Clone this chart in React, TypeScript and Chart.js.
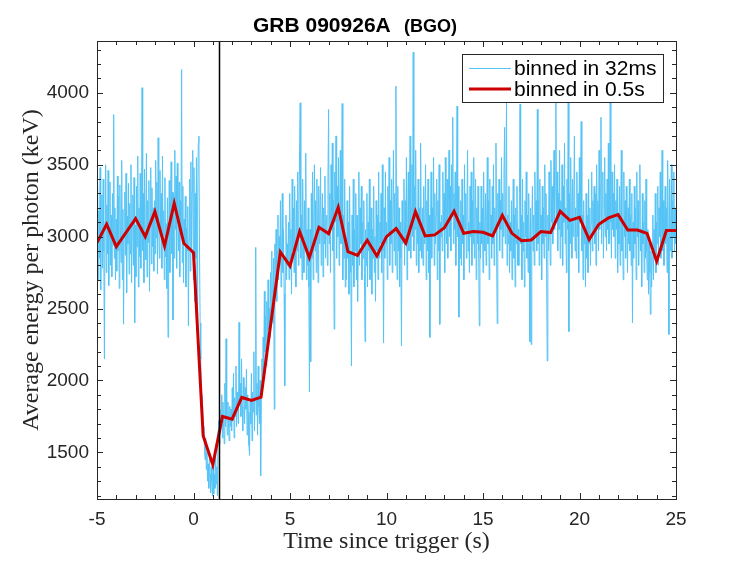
import { useEffect, useRef } from "react"
import { Chart, registerables } from "chart.js"

Chart.register(...registerables)

// 32 ms bins, first bin at t = -5 s
const BIN_START = -5
const BIN_WIDTH = 0.032

const energy32ms = [
  2960, 3350, 2700, 3180, 2850, 3480, 2630, 3050, 3290, 2780, 3400, 2900, 2150, 3100, 3500, 2750, 3220, 2880, 3460, 2660, 3030, 3380, 2800, 3150, 2720, 3300, 2940, 3849, 2850, 3200, 2700,
  3120, 2760, 3420, 2900, 3280, 2640, 3360, 3010, 2820, 3530, 2700, 3190, 2391, 3050, 3310, 2870, 3440, 2610, 3140, 2950, 3370, 2740, 3230, 2880, 3500, 2680, 3060, 3290, 2800, 3410, 2400,
  3080, 2720, 3350, 2930, 3560, 2650, 3200, 2860, 3440, 2780, 3150, 4035, 2900, 3300, 2680, 3470, 3010, 2840, 3580, 2720, 3250, 2960, 3390, 2620, 3120, 3480, 2810, 3340, 2930, 3200, 2760,
  3250, 2880, 3530, 2990, 3380, 2740, 3687, 3100, 2850, 3460, 3020, 3300, 2780, 3560, 2950, 3180, 2700, 3410, 2860, 3090, 2640, 3270, 2300, 2980, 3390, 2750, 3150, 3520, 2880, 3310, 2420,
  3300, 2850, 3600, 3050, 3420, 2780, 3510, 3160, 2900, 3380, 2720, 3250, 3050, 4162, 2820, 3350, 2680, 3120, 2940, 3280, 2650, 3060, 2900, 3210, 2380, 2980, 3400, 2760, 3520, 2900, 3310,
  3600, 2700, 3480, 2550, 3300, 2850, 3550, 2450, 3200, 3650, 3699, 2900, 2400, 2150, 1900, 1750, 1820, 1600, 1680, 1520, 1450, 1600, 1380, 1500, 1300, 1420, 1250, 1480, 1350, 1220, 1400,
  1300, 1196, 1450, 1210, 1350, 1250, 1520, 1280, 1400, 1200, 1650, 1720, 1560, 1800, 1640, 1750, 1900, 1600, 1850, 1700, 1560, 1980, 1680, 2290, 1750, 1620, 1850, 1700, 1580, 1820, 1680,
  1800, 1650, 1950, 1720, 2050, 1600, 1880, 1750, 2100, 1680, 1920, 1820, 1700, 2404, 1850, 1980, 1750, 2150, 1820, 1650, 2020, 1880, 1700, 1950, 1800, 2080, 1620, 1900, 1780, 1550, 1480,
  1850, 1700, 2050, 1580, 1920, 1780, 2200, 1650, 1880, 2925, 1760, 1980, 1620, 2100, 1820, 1700, 2000, 1337, 1900, 2150, 1950, 2300, 2050, 2620, 2200, 2450, 2100, 2550, 2250, 2700, 2350,
  2500, 2300, 2750, 2450, 2900, 2600, 2400, 2850, 1800, 2950, 2650, 3050, 2550, 2900, 3150, 2700, 3000, 2800, 3250, 2650, 2950, 3300, 2750, 3050, 2600, 1963, 2850, 3150, 2700, 2950, 2800,
  3100, 2700, 3300, 2850, 3050, 2600, 3400, 2900, 3200, 2750, 3350, 2980, 2650, 3250, 2900, 3450, 2800, 3100, 3600, 3930, 2850, 3150, 2700, 3400, 3000, 2750, 3250, 2900, 3580, 2700, 3050,
  2800, 3200, 2650, 1920, 3050, 2130, 3300, 2850, 3450, 2700, 3100, 3500, 2900, 3250, 2750, 3400, 3000, 2680, 3350, 2950, 3150, 3480, 2800, 3050, 3300, 2720, 3200, 2950, 3420, 2850, 3100,
  3150, 2800, 3400, 3884, 2950, 3300, 2750, 3500, 3050, 3650, 2900, 3250, 2357, 3450, 3100, 3700, 2850, 3350, 3000, 3550, 2800, 3200, 3600, 2950, 3300, 3925, 2700, 3150, 2850, 3400, 2650,
  3000, 2700, 3250, 2850, 3100, 2600, 3350, 2900, 2750, 2100, 3150, 2800, 3400, 2650, 3050, 2900, 3300, 2700, 3150, 2550, 3000, 3450, 2800, 3200, 2950, 3350, 2700, 3100, 2850, 3250, 2750,
  2270, 3050, 2800, 3300, 2650, 3100, 2900, 3400, 2700, 2950, 3200, 2600, 3050, 2850, 3350, 2750, 3000, 2550, 3250, 2900, 3150, 2700, 3450, 2850, 3100, 2950, 3300, 2750, 3500, 2900, 2260,
  3200, 2850, 3450, 2950, 3100, 2700, 3350, 3000, 3550, 2800, 3250, 2950, 3400, 2750, 3150, 3600, 2900, 3300, 2800, 4046, 3050, 2700, 3350, 2900, 3200, 2650, 3100, 2850, 2240, 3250, 2950,
  3050, 3400, 2800, 3250, 2950, 3550, 2700, 3100, 3450, 2900, 3300, 3700, 2850, 3200, 3500, 3000, 4282, 2900, 3350, 3050, 3600, 2800, 3150, 2950, 3400, 2750, 3200, 2900, 3650, 3000, 2850,
  3200, 2800, 3350, 2950, 3100, 3500, 2700, 3250, 2900, 3400, 2750, 3150, 2300, 3050, 3450, 2850, 3200, 3000, 3550, 2800, 3300, 2950, 3150, 3400, 2700, 3250, 2900, 3500, 2390, 3100, 3000,
  3150, 2900, 3450, 3050, 3300, 2750, 3550, 3100, 2950, 3400, 2850, 3250, 3600, 3000, 3350, 2900, 3500, 3150, 3830, 2950, 3300, 3050, 3450, 2800, 3200, 3907, 3000, 3350, 2440, 3100, 2850,
  3250, 2800, 3400, 2950, 3150, 2700, 3500, 3050, 3300, 2850, 3200, 3600, 2900, 3100, 2750, 3350, 3000, 3450, 2800, 3250, 2950, 3550, 2850, 3100, 3400, 2700, 3200, 2950, 3350, 2900, 2380,
  3100, 2850, 3350, 2950, 3200, 2750, 3450, 3050, 2900, 3300, 2800, 3150, 3550, 2950, 3250, 2700, 3400, 3000, 3150, 2850, 3350, 2950, 3500, 2800, 3200, 3050, 3650, 2900, 2395, 3300, 3100,
  3400, 2900, 3250, 3050, 3550, 2850, 3300, 3000, 3450, 3760, 2950, 3200, 3942, 2800, 3150, 2950, 3350, 2750, 3100, 2900, 3250, 2700, 3050, 3400, 2850, 3150, 2650, 3200, 2950, 3350, 2800,
  3050, 2800, 3300, 3920, 2950, 3150, 2700, 3400, 2900, 3100, 2650, 3250, 3000, 3450, 2850, 3150, 2750, 3300, 2950, 2270, 3200, 2250, 3050, 3350, 2900, 3150, 2800, 3450, 3000, 3250, 2900,
  3885, 2950, 3250, 2800, 3400, 3050, 3150, 2700, 3350, 2950, 3200, 2850, 3500, 3000, 3300, 2750, 2136, 3150, 2900, 3450, 3050, 2800, 3530, 3100, 3350, 2950, 3250, 3600, 3050, 3400, 3942,
  3100, 3450, 2900, 3300, 3050, 3600, 2850, 3250, 3000, 3500, 2800, 3350, 3100, 3650, 2950, 3200, 2750, 3400, 3050, 3965, 2340, 3300, 2950, 3550, 3100, 2850, 3400, 3000, 3250, 3700, 2900,
  3200, 2850, 3450, 3000, 3300, 2750, 3550, 3100, 3350, 3800, 2900, 3150, 2700, 3250, 2950, 3050, 2650, 3300, 2850, 3150, 2750, 3400, 2950, 3200, 2800, 3100, 3450, 2900, 3250, 3050, 3350,
  2950, 3300, 2800, 3500, 3100, 3250, 2900, 3600, 3050, 3350, 3830, 2950, 3200, 3450, 2850, 3150, 3550, 3000, 3300, 2900, 3400, 3050, 3650, 2950, 3250, 3930, 3100, 2850, 3450, 3050, 3300,
  3000, 3500, 2850, 3250, 3050, 3400, 2750, 3150, 2950, 3350, 2800, 3200, 3600, 2900, 3100, 2700, 3450, 3000, 3250, 2850, 3350, 3050, 2750, 3200, 2950, 3400, 2900, 3150, 2800, 3300, 2400,
  3100, 2850, 3350, 2950, 3200, 2700, 3450, 3000, 3250, 2800, 3150, 3500, 2900, 3050, 2650, 3300, 2950, 3100, 2750, 3250, 2850, 3400, 2900, 2700, 3050, 2600, 2950, 2750, 2460, 2900, 2650,
  2850, 3150, 2700, 3050, 2900, 3300, 2750, 3100, 2950, 3350, 2800, 3200, 3000, 3450, 2850, 3150, 3600, 2900, 3250, 2800, 3100, 3350, 2950, 3200, 2750, 3530, 3000, 2320, 3400, 2900, 3150,
  3500, 2850, 3250, 3000, 3450, 2900, 3200, 2950,
]

// 0.5 s bins
const times05s = [
  -5, -4.5, -4, -3.5, -3, -2.5, -2, -1.5, -1, -0.5, 0, 0.5, 1, 1.5, 2, 2.5, 3, 3.5, 4, 4.5,
  5, 5.5, 6, 6.5, 7, 7.5, 8, 8.5, 9, 9.5, 10, 10.5, 11, 11.5, 12, 12.5, 13, 13.5, 14, 14.5,
  15, 15.5, 16, 16.5, 17, 17.5, 18, 18.5, 19, 19.5, 20, 20.5, 21, 21.5, 22, 22.5, 23, 23.5, 24, 24.5, 25,
]
const energy05s = [
  2958, 3086, 2931, 3028, 3125, 3000, 3174, 2935, 3231, 2954, 2889, 1616, 1414, 1750, 1731, 1882, 1861, 1884, 2390, 2893,
  2796, 3035, 2854, 3065, 3021, 3204, 2896, 2870, 2975, 2866, 3000, 3056, 2956, 3174, 3005, 3012, 3062, 3176, 3023, 3035,
  3030, 3005, 3148, 3023, 2972, 2977, 3035, 3028, 3176, 3113, 3134, 2979, 3086, 3130, 3153, 3046, 3046, 3023, 2829, 3042, 3042,
]

const xTicks = [-5, 0, 5, 10, 15, 20, 25]
const yTicks = [1500, 2000, 2500, 3000, 3500, 4000]
const triggerMark = 1.34

const BLUE = "#55c3f5"
const RED = "#cc0000"
const AXIS = "#262626"

const framePlugin = {
  id: "frame",
  afterDatasetsDraw(chart: Chart) {
    const { ctx, chartArea: a, scales } = chart
    const x = scales.x
    const y = scales.y
    ctx.save()

    // trigger line
    const tx = Math.round(x.getPixelForValue(triggerMark)) + 0.5
    ctx.strokeStyle = "#000"
    ctx.lineWidth = 1.5
    ctx.beginPath()
    ctx.moveTo(tx, a.top)
    ctx.lineTo(tx, a.bottom)
    ctx.stroke()

    // box + inward ticks on all sides
    ctx.strokeStyle = AXIS
    ctx.lineWidth = 1
    ctx.strokeRect(a.left + 0.5, a.top + 0.5, a.right - a.left, a.bottom - a.top)
    ctx.beginPath()
    for (let v = -5; v <= 25; v += 1) {
      const px = Math.round(x.getPixelForValue(v)) + 0.5
      const len = v % 5 === 0 ? 6 : 4
      ctx.moveTo(px, a.bottom)
      ctx.lineTo(px, a.bottom - len)
      ctx.moveTo(px, a.top)
      ctx.lineTo(px, a.top + len)
    }
    for (let v = 1200; v <= 4300; v += 100) {
      const py = Math.round(y.getPixelForValue(v)) + 0.5
      const len = v % 500 === 0 ? 6 : 4
      ctx.moveTo(a.left, py)
      ctx.lineTo(a.left + len, py)
      ctx.moveTo(a.right, py)
      ctx.lineTo(a.right - len, py)
    }
    ctx.stroke()

    // legend
    const lx = 462
    const ly = 54
    ctx.fillStyle = "#fff"
    ctx.fillRect(lx, ly, 201, 48)
    ctx.strokeStyle = AXIS
    ctx.strokeRect(lx + 0.5, ly + 0.5, 201, 48)
    ctx.strokeStyle = BLUE
    ctx.lineWidth = 1
    ctx.beginPath()
    ctx.moveTo(469, 68.5)
    ctx.lineTo(511, 68.5)
    ctx.stroke()
    ctx.strokeStyle = RED
    ctx.lineWidth = 3
    ctx.beginPath()
    ctx.moveTo(469, 89)
    ctx.lineTo(511, 89)
    ctx.stroke()
    ctx.fillStyle = "#000"
    ctx.font = "21px 'Liberation Sans', Arial, sans-serif"
    ctx.textBaseline = "alphabetic"
    ctx.textAlign = "left"
    ctx.fillText("binned in 32ms", 514, 75)
    ctx.fillText("binned in 0.5s", 514, 96)

    // title
    ctx.font = "bold 21px 'Liberation Sans', Arial, sans-serif"
    ctx.fillText("GRB 090926A", 253, 32)
    ctx.font = "bold 18px 'Liberation Sans', Arial, sans-serif"
    ctx.fillText("(BGO)", 404, 32)

    ctx.restore()
  },
}

export default function App() {
  const chartRef = useRef<HTMLCanvasElement>(null)
  const chartInstance = useRef<Chart | null>(null)

  useEffect(() => {
    const canvas = chartRef.current
    if (!canvas) return
    const ctx = canvas.getContext("2d")
    if (!ctx) return

    if (chartInstance.current) {
      chartInstance.current.destroy()
    }

    const finePoints = energy32ms.map((e, i) => ({ x: BIN_START + i * BIN_WIDTH, y: e }))
    const coarsePoints = energy05s.map((e, i) => ({ x: times05s[i], y: e }))

    chartInstance.current = new Chart(ctx, {
      type: "line",
      data: {
        datasets: [
          {
            label: "binned in 32ms",
            data: finePoints,
            borderColor: BLUE,
            borderWidth: 1,
            pointRadius: 0,
            tension: 0,
            order: 2,
          },
          {
            label: "binned in 0.5s",
            data: coarsePoints,
            borderColor: RED,
            borderWidth: 3,
            pointRadius: 0,
            tension: 0,
            order: 1,
          },
        ],
      },
      options: {
        responsive: false,
        animation: false,
        devicePixelRatio: 1,
        layout: { padding: { top: 41, right: 71, left: 0, bottom: 0 } },
        plugins: {
          legend: { display: false },
          tooltip: { enabled: false },
        },
        scales: {
          x: {
            type: "linear",
            min: -5,
            max: 25,
            afterBuildTicks: (s: any) => {
              s.ticks = xTicks.map((v) => ({ value: v }))
            },
            afterFit: (s: any) => {
              s.height = 62
            },
            grid: { display: false, drawTicks: false },
            border: { display: false },
            ticks: {
              color: AXIS,
              padding: 9,
              maxRotation: 0,
              callback: (v: any) => String(v),
              font: { family: "'Liberation Sans', Arial, sans-serif", size: 19 },
            },
            title: {
              display: true,
              text: "Time since trigger (s)",
              color: AXIS,
              padding: { top: 0, bottom: 5 },
              font: { family: "'Liberation Serif', 'Times New Roman', serif", size: 24 },
            },
          },
          y: {
            type: "linear",
            min: 1176,
            max: 4360,
            afterBuildTicks: (s: any) => {
              s.ticks = yTicks.map((v) => ({ value: v }))
            },
            afterFit: (s: any) => {
              s.width = 97
            },
            grid: { display: false, drawTicks: false },
            border: { display: false },
            ticks: {
              color: AXIS,
              padding: 8,
              callback: (v: any) => String(v),
              font: { family: "'Liberation Sans', Arial, sans-serif", size: 19 },
            },
            title: {
              display: true,
              text: "Average energy per photon (keV)",
              color: AXIS,
              padding: { top: 17, bottom: 0 },
              font: { family: "'Liberation Serif', 'Times New Roman', serif", size: 24 },
            },
          },
        },
      },
      plugins: [framePlugin],
    })

    return () => {
      if (chartInstance.current) {
        chartInstance.current.destroy()
        chartInstance.current = null
      }
    }
  }, [])

  return (
    <div style={{ position: "absolute", left: 0, top: 0, width: 747, height: 561, background: "#fff" }}>
      <canvas ref={chartRef} width={747} height={561} />
    </div>
  )
}
